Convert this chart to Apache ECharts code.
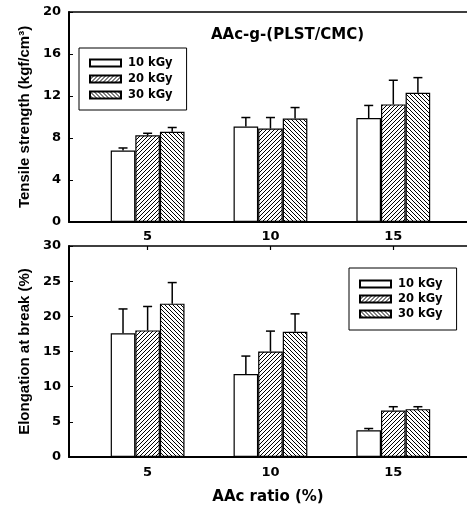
<!DOCTYPE html>
<html>
<head>
<meta charset="utf-8">
<script src="https://cdn.jsdelivr.net/npm/echarts@6/dist/echarts.min.js"></script>
<style>
  html, body { margin: 0; padding: 0; background: #fff; }
  #main { width: 467px; height: 510px; }
</style>
</head>
<body>
<div id="main"></div>
<script>
// AAc ratio (%) categories and irradiation doses
var ratios = [5, 10, 15];
var doses = ['10 kGy', '20 kGy', '30 kGy'];

// Tensile strength (kgf/cm3), mean and upper error
var tensile10 = [6.8, 9.1, 9.9];
var tensile20 = [8.25, 8.9, 11.2];
var tensile30 = [8.6, 9.85, 12.3];
var tensileErr10 = [0.25, 0.85, 1.2];
var tensileErr20 = [0.2, 1.05, 2.3];
var tensileErr30 = [0.4, 1.05, 1.45];

// Elongation at break (%), mean and upper error
var elong10 = [17.6, 11.8, 3.8];
var elong20 = [18.0, 15.0, 6.6];
var elong30 = [21.8, 17.8, 6.8];
var elongErr10 = [3.45, 2.55, 0.25];
var elongErr20 = [3.4, 2.9, 0.55];
var elongErr30 = [3.0, 2.55, 0.35];

var chart = echarts.init(document.getElementById('main'));

// hatch pattern: dir 1 = "////", dir -1 = "\\\\"
function hatch(dir) {
    var s = 4;
    var c = document.createElement('canvas');
    c.width = s; c.height = s;
    var ctx = c.getContext('2d');
    ctx.fillStyle = '#fff';
    ctx.fillRect(0, 0, s, s);
    ctx.strokeStyle = '#000';
    ctx.lineWidth = 1;
    ctx.beginPath();
    if (dir > 0) {
        ctx.moveTo(0, s); ctx.lineTo(s, 0);
        ctx.moveTo(-1, 1); ctx.lineTo(1, -1);
        ctx.moveTo(s - 1, s + 1); ctx.lineTo(s + 1, s - 1);
    } else {
        ctx.moveTo(0, 0); ctx.lineTo(s, s);
        ctx.moveTo(s - 1, -1); ctx.lineTo(s + 1, 1);
        ctx.moveTo(-1, s - 1); ctx.lineTo(1, s + 1);
    }
    ctx.stroke();
    return { image: c, repeat: 'repeat' };
}

var fills = ['#fff', hatch(1), hatch(-1)];
var barW = 24.6;
var offsets = [-barW, 0, barW];
var FONT_H = 'DejaVu Sans';
var FONT_V = 'Liberation Sans';

function pairs(vals) {
    return ratios.map(function (r, i) { return [r, vals[i]]; });
}
function errPairs(vals, errs) {
    return ratios.map(function (r, i) { return [r, vals[i], errs[i]]; });
}

function barSeries(k, vals, axisIdx) {
    return {
        name: doses[k],
        type: 'bar',
        xAxisIndex: axisIdx,
        yAxisIndex: axisIdx === 0 ? 0 : 1,
        barWidth: barW,
        barGap: '0%',
        data: pairs(vals),
        itemStyle: { color: fills[k], borderColor: '#000', borderWidth: 1.2 },
        emphasis: { disabled: true },
        z: 2
    };
}

function errSeries(k, vals, errs, axisIdx) {
    return {
        name: 'err' + k + '_' + axisIdx,
        type: 'custom',
        xAxisIndex: axisIdx,
        yAxisIndex: axisIdx === 0 ? 0 : 1,
        data: errPairs(vals, errs),
        z: 5,
        silent: true,
        renderItem: function (params, api) {
            var base = api.coord([api.value(0), api.value(1)]);
            var top = api.coord([api.value(0), api.value(1) + api.value(2)]);
            var x = base[0] + offsets[k];
            var st = { stroke: '#000', lineWidth: 1.5 };
            return {
                type: 'group',
                children: [
                    { type: 'line', shape: { x1: x, y1: base[1], x2: x, y2: top[1] }, style: st },
                    { type: 'line', shape: { x1: x - 4.5, y1: top[1], x2: x + 4.5, y2: top[1] }, style: st }
                ]
            };
        }
    };
}

var labelStyle = { color: '#000', fontWeight: 'bold', fontSize: 13, fontFamily: FONT_H };
var legendText = { color: '#000', fontWeight: 'bold', fontSize: 11.5, fontFamily: FONT_H, lineHeight: 12, padding: [0, 0, 0, 2] };

var option = {
    backgroundColor: '#fff',
    animation: false,
    title: {
        text: 'AAc-g-(PLST/CMC)',
        left: 206,
        top: 23,
        textStyle: { color: '#000', fontWeight: 'bold', fontSize: 15, fontFamily: FONT_H }
    },
    legend: [{
        data: doses,
        orient: 'vertical',
        left: 79,
        top: 48,
        padding: [9, 14, 9, 10],
        icon: 'rect',
        itemWidth: 31,
        itemHeight: 7,
        itemGap: 4,
        borderColor: '#000',
        borderWidth: 1,
        selectedMode: false,
        textStyle: legendText
    }, {
        data: doses,
        orient: 'vertical',
        left: 349,
        top: 268,
        padding: [10, 14, 10, 10],
        icon: 'rect',
        itemWidth: 31,
        itemHeight: 7,
        itemGap: 3,
        borderColor: '#000',
        borderWidth: 1,
        selectedMode: false,
        textStyle: legendText
    }],
    grid: [
        { left: 69, top: 12, width: 398, height: 210 },
        { left: 69, top: 246, width: 398, height: 211 }
    ],
    xAxis: [{
        gridIndex: 0, type: 'value', min: 1.8, max: 18,
        axisLine: { lineStyle: { color: '#000', width: 2 } },
        axisTick: { show: false },
        splitLine: { show: false },
        axisLabel: Object.assign({ customValues: ratios, margin: 8 }, labelStyle)
    }, {
        gridIndex: 0, type: 'value', min: 1.8, max: 18, position: 'top',
        axisLine: { onZero: false, lineStyle: { color: '#000', width: 1.5 } },
        axisTick: { show: false },
        splitLine: { show: false },
        axisLabel: { show: false }
    }, {
        gridIndex: 1, type: 'value', min: 1.8, max: 18,
        name: 'AAc ratio (%)',
        nameLocation: 'middle',
        nameGap: 33,
        nameTextStyle: { color: '#000', fontWeight: 'bold', fontSize: 15, fontFamily: FONT_H },
        axisLine: { lineStyle: { color: '#000', width: 2 } },
        axisTick: { show: false },
        splitLine: { show: false },
        axisLabel: Object.assign({ customValues: ratios, margin: 9 }, labelStyle)
    }, {
        gridIndex: 1, type: 'value', min: 1.8, max: 18, position: 'top',
        axisLine: { onZero: false, lineStyle: { color: '#000', width: 1.5 } },
        axisTick: { show: true, inside: true, length: 4, customValues: ratios, lineStyle: { color: '#000', width: 1.2 } },
        splitLine: { show: false },
        axisLabel: { show: false }
    }],
    yAxis: [{
        gridIndex: 0, type: 'value', min: 0, max: 20, interval: 4,
        name: 'Tensile strength (kgf/cm³)',
        nameLocation: 'middle',
        nameGap: 36,
        nameTextStyle: { color: '#000', fontWeight: 'bold', fontSize: 15, fontFamily: FONT_V },
        axisLine: { show: true, lineStyle: { color: '#000', width: 2 } },
        axisTick: { show: true, inside: true, length: 4, lineStyle: { color: '#000', width: 1 } },
        splitLine: { show: false },
        axisLabel: Object.assign({ margin: 8 }, labelStyle)
    }, {
        gridIndex: 1, type: 'value', min: 0, max: 30, interval: 5,
        name: 'Elongation at break (%)',
        nameLocation: 'middle',
        nameGap: 36,
        nameTextStyle: { color: '#000', fontWeight: 'bold', fontSize: 15, fontFamily: FONT_V },
        axisLine: { show: true, lineStyle: { color: '#000', width: 2 } },
        axisTick: { show: true, inside: true, length: 4, lineStyle: { color: '#000', width: 1 } },
        splitLine: { show: false },
        axisLabel: Object.assign({ margin: 8 }, labelStyle)
    }],
    series: [
        barSeries(0, tensile10, 0),
        barSeries(1, tensile20, 0),
        barSeries(2, tensile30, 0),
        errSeries(0, tensile10, tensileErr10, 0),
        errSeries(1, tensile20, tensileErr20, 0),
        errSeries(2, tensile30, tensileErr30, 0),
        barSeries(0, elong10, 2),
        barSeries(1, elong20, 2),
        barSeries(2, elong30, 2),
        errSeries(0, elong10, elongErr10, 2),
        errSeries(1, elong20, elongErr20, 2),
        errSeries(2, elong30, elongErr30, 2)
    ]
};

chart.setOption(option);
</script>
</body>
</html>
